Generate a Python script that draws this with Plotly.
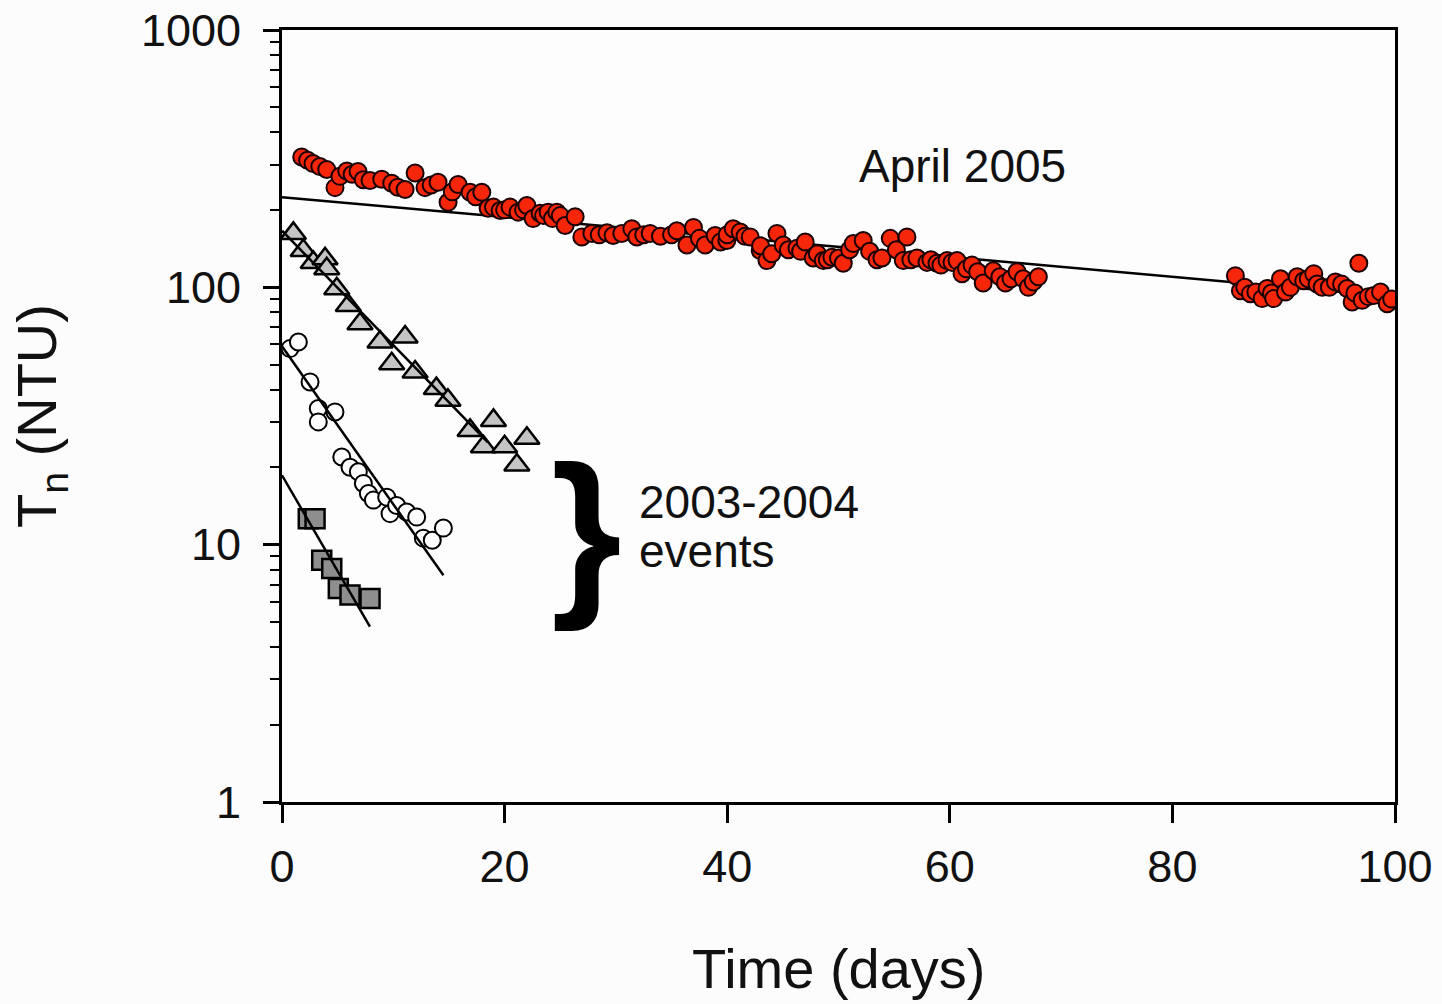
import plotly.graph_objects as go

# ---- data ----
april_t = [1.77, 2.3, 2.79, 3.4, 4.02, 4.76, 5.2, 5.82, 6.3, 6.83, 7.3, 7.91, 8.96, 9.86, 10.4, 11.06,
           11.96, 12.85, 13.4, 14.02, 14.92, 15.3, 15.82, 16.9, 17.4, 17.95, 18.52, 19.0, 19.6, 20.0,
           20.49, 21.21, 21.7, 22.0, 22.56, 23.19, 23.5, 23.91, 24.3, 24.69, 25.0, 25.44,
           26.34, 26.94, 27.84, 28.5, 29.2, 29.75, 30.53, 31.43, 31.88, 32.5, 33.08, 34.0, 35.0,
           35.48, 36.38, 36.97, 37.5, 38.02, 38.92, 39.4, 39.97, 40.0, 40.54, 41.17, 41.6, 42.07,
           42.97, 43.0, 43.57, 44.0, 44.47, 45.03, 45.5, 46.27, 46.6, 47.01, 47.73, 48.1, 48.63,
           49.0, 49.41, 50.0, 50.43, 51.0, 51.33, 52.22, 52.8, 53.46, 53.9, 54.65, 55.2, 55.82,
           56.15, 56.5, 57.05, 57.95, 58.3, 58.85, 59.2, 59.75, 60.2, 60.65, 61.1, 61.5,
           62.0, 62.5, 63.0, 63.9, 64.5, 65.0, 65.5, 66.04, 66.6, 67.06, 67.5, 67.96,
           85.66, 86.11, 86.5, 87.01, 87.5, 88.06, 88.51, 88.9, 89.1, 89.71, 90.16, 90.6, 91.21,
           91.8, 92.2, 92.7, 93.0, 93.46, 94.1, 94.65, 95.2, 95.7, 96.15, 96.4, 96.75, 97.05,
           97.6, 98.1, 98.7, 99.3, 99.7]
april_T = [321, 312, 303, 295, 287, 244, 270, 283, 275, 282, 262, 260, 263, 254, 245, 240,
           278, 244, 250, 256, 214, 235, 251, 234, 225, 234, 203, 205, 199, 200,
           205, 196, 200, 208, 185, 194, 190, 196, 185, 196, 190, 174,
           188, 157, 162, 160, 163, 159, 162, 169, 157, 160, 162, 158, 160,
           166, 146, 171, 155, 146, 159, 150, 152, 160, 169, 164, 158, 157,
           139, 145, 127, 135, 162, 146, 140, 142, 138, 150, 130, 135, 127,
           128, 131, 130, 124, 140, 148, 152, 138, 128, 130, 155, 140, 127,
           157, 128, 130, 125, 128, 124, 122, 127, 125, 127, 113, 118,
           122, 115, 104, 116, 110, 104, 108, 115, 108, 100, 105, 110,
           111, 97, 100, 94.5, 96, 90.4, 98.9, 95, 90.4, 108, 95.9, 100, 110,
           106, 108, 113, 103, 100, 100, 105, 103, 98.9, 87.7, 95, 124, 89,
           92, 93, 95.9, 86.4, 90]

tri_t = [1.02, 1.91, 2.81, 3.87, 4.02, 4.92, 5.96, 7.01, 8.81, 11.06, 9.86, 11.96, 13.87, 14.91,
         16.9, 18.1, 19.0, 20.0, 21.1, 22.0]
tri_T = [162, 139, 125, 129, 118, 98.8, 85, 72.2, 61.3, 64.1, 50.5, 46.9, 40.4, 36.4,
         27.8, 24, 30.4, 24, 20.4, 25.9]

circ_t = [0.72, 1.47, 2.52, 3.26, 3.26, 4.76, 5.37, 6.11, 6.86, 7.31, 7.76, 8.21, 9.41, 9.71,
          10.3, 11.2, 12.1, 12.7, 13.5, 14.5]
circ_T = [57.8, 61.3, 42.9, 33.8, 30.0, 32.8, 21.9, 20.0, 19.2, 17.3, 15.8, 14.9, 15.3, 13.2,
          14.2, 13.4, 12.8, 10.6, 10.4, 11.6]

sq_t = [2.36, 2.97, 3.57, 4.47, 5.06, 6.11, 7.91]
sq_T = [12.6, 12.6, 8.7, 8.08, 6.76, 6.37, 6.18]

# fitted exponential decay lines (end points)
fit_april_t = [0, 100]
fit_april_T = [224, 92]
fit_tri_t = [0, 18.5]
fit_tri_T = [166, 25]
fit_circ_t = [0, 14.5]
fit_circ_T = [59, 7.6]
fit_sq_t = [0, 7.9]
fit_sq_T = [18.6, 4.8]

x_ticks = [0, 20, 40, 60, 80, 100]
y_ticks = [1, 10, 100, 1000]
y_ticktext = ["1", "10", "100", "1000"]

FONT = "Liberation Sans, Arial, sans-serif"
INK = "#111111"

fig = go.Figure()

line_style = dict(color="black", width=2.5)
fig.add_trace(go.Scatter(x=fit_april_t, y=fit_april_T, mode="lines", line=line_style, showlegend=False))
fig.add_trace(go.Scatter(x=april_t, y=april_T, mode="markers", showlegend=False,
                         marker=dict(symbol="circle", size=17, color="#f5260a",
                                     line=dict(color="#1a0000", width=2))))
fig.add_trace(go.Scatter(x=tri_t, y=tri_T, mode="markers", showlegend=False,
                         marker=dict(symbol="triangle-up", size=22, color="#c4c4c4",
                                     line=dict(color="black", width=2.5))))
fig.add_trace(go.Scatter(x=circ_t, y=circ_T, mode="markers", showlegend=False,
                         marker=dict(symbol="circle", size=17, color="white",
                                     line=dict(color="black", width=2))))
fig.add_trace(go.Scatter(x=sq_t, y=sq_T, mode="markers", showlegend=False,
                         marker=dict(symbol="square", size=19, color="#8e8e8e",
                                     line=dict(color="black", width=2.5))))
fig.add_trace(go.Scatter(x=fit_tri_t, y=fit_tri_T, mode="lines", line=line_style, showlegend=False))
fig.add_trace(go.Scatter(x=fit_circ_t, y=fit_circ_T, mode="lines", line=line_style, showlegend=False))
fig.add_trace(go.Scatter(x=fit_sq_t, y=fit_sq_T, mode="lines", line=line_style, showlegend=False))

minor_vals = [m * d for d in (1, 10, 100) for m in range(2, 10)]

fig.update_layout(
    width=1442, height=1004,
    margin=dict(l=282, r=47, t=30, b=202),
    paper_bgcolor="#fcfcfc", plot_bgcolor="#fdfdfd",
    font=dict(family=FONT, color=INK, size=45),
    xaxis=dict(range=[0, 100], tickmode="array", tickvals=x_ticks, automargin=False,
               ticks="outside", ticklen=18, tickwidth=2.5, tickcolor="black",
               showline=True, linewidth=3, linecolor="black", mirror=True,
               showgrid=False, zeroline=False, ticklabelstandoff=5,
               tickfont=dict(size=45, family=FONT, color=INK)),
    yaxis=dict(type="log", range=[0, 3], tickmode="array", tickvals=y_ticks, ticktext=y_ticktext,
               automargin=False,
               ticks="outside", ticklen=16, tickwidth=2.5, tickcolor="black",
               showline=True, linewidth=3, linecolor="black", mirror=True,
               showgrid=False, zeroline=False, ticklabelstandoff=13,
               tickfont=dict(size=45, family=FONT, color=INK),
               minor=dict(tickmode="array", tickvals=minor_vals, ticks="outside",
                          ticklen=9, tickwidth=2, tickcolor="black", showgrid=False)),
)

annos = [
    dict(text="April 2005", x=0.611, y=0.824, xanchor="center", yanchor="middle",
         font=dict(size=46, family=FONT, color=INK)),
    dict(text="2003-2004", x=0.319, y=0.389, xanchor="left", yanchor="middle",
         font=dict(size=46, family=FONT, color=INK)),
    dict(text="events", x=0.319, y=0.325, xanchor="left", yanchor="middle",
         font=dict(size=46, family=FONT, color=INK)),
    dict(text="<b>}</b>", x=0.2735, y=0.352, xanchor="center", yanchor="middle",
         font=dict(size=182, family=FONT, color="black")),
    dict(text="Time (days)", x=0.5, y=-0.2163, xanchor="center", yanchor="middle",
         font=dict(size=56, family=FONT, color=INK)),
    dict(text="T<sub>n</sub> (NTU)", x=-0.2174, y=0.5, xanchor="center", yanchor="middle",
         textangle=-90, font=dict(size=56, family=FONT, color=INK)),
]
for a in annos:
    fig.add_annotation(xref="paper", yref="paper", showarrow=False, **a)

fig.write_html("out.html")
